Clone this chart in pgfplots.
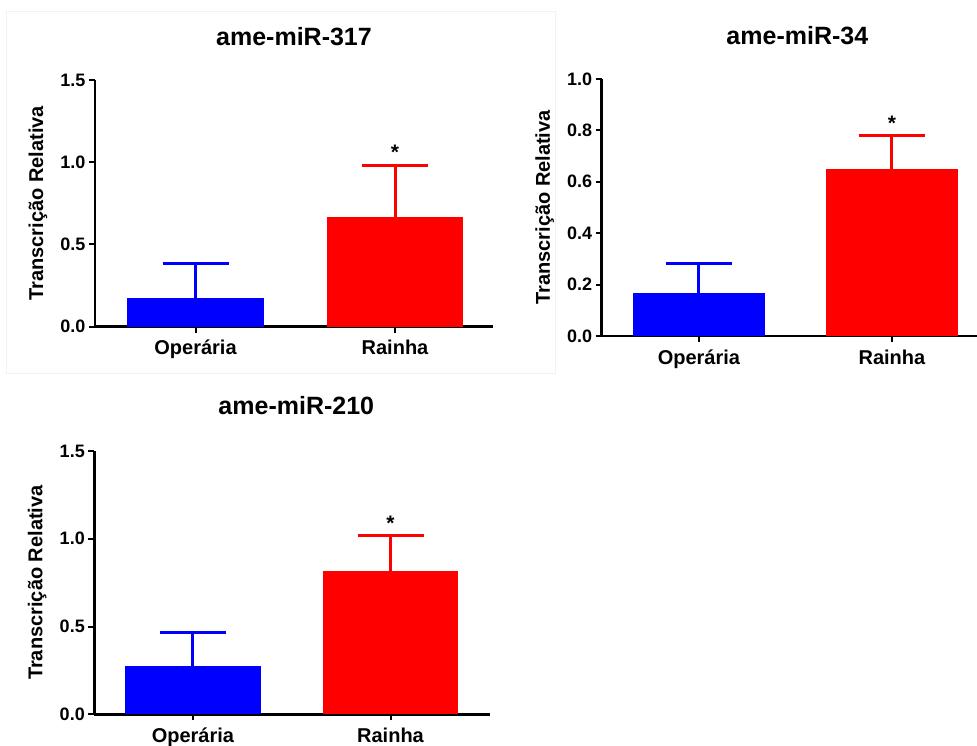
\documentclass[border=0pt]{standalone}
\usepackage{pgfplots}
\pgfplotsset{compat=1.18}
\usepackage{fontspec}
\setmainfont{Liberation Sans}
\definecolor{gpblue}{RGB}{0,0,255}
\definecolor{gpred}{RGB}{255,0,0}
\definecolor{framegray}{RGB}{242,242,242}
\newcommand{\fs}[1]{\fontsize{#1}{#1}\selectfont}
\tikzset{starlbl/.style={font=\bfseries\fs{21}, anchor=center}}
\pgfplotsset{
  panel/.style={
    scale only axis, clip=false,
    axis x line=bottom, axis y line=left,
    axis line style={-, line width=2.5pt, black},
    xmin=0, ymin=0,
    tick align=outside, major tick length=6pt,
    tick style={line width=2pt, black},
    minor tick num=0,
    xticklabels={Operária, Rainha},
    yticklabel style={font=\bfseries\fs{18}, /pgf/number format/fixed, /pgf/number format/fixed zerofill, /pgf/number format/precision=1, /pgf/number format/assume math mode=true},
    xticklabel style={font=\bfseries\fs{20}, yshift=-4pt},
    ylabel={Transcrição Relativa},
    ylabel style={font=\bfseries\fs{20}, at={([xshift=-57pt]axis description cs:0,0.5)}, anchor=center},
    title style={font=\bfseries\fs{25}, anchor=center},
  },
  bars/.style={ybar, bar shift=0pt, draw=none, fill=#1,
     error bars/y dir=plus, error bars/y explicit,
     error bars/error mark=|,
     error bars/error bar style={line width=3pt, #1},
     error bars/error mark options={line width=3pt, #1, mark size=33pt}},
}
\begin{document}
\begin{tikzpicture}[x=1pt,y=1pt]
\path[use as bounding box] (0,0) rectangle (977,746);
\draw[framegray, line width=1pt] (6,372) rectangle (555,734);
% Panel 1
\begin{axis}[panel, at={(95pt,419.3pt)}, anchor=south west,
  width=398pt, height=246.7pt, xmax=398, ymax=1.5,
  ytick={0,0.5,1,1.5}, xtick={100.5,300},
  title={ame-miR-317},
  title style={at={([yshift=37pt]axis description cs:0.5,1)}}]
\addplot[bars=gpblue, bar width=137] coordinates {(100.5,0.173) +- (0,0.213)};
\addplot[bars=gpred, bar width=136] coordinates {(300,0.665) +- (0,0.318)};
\node[starlbl] at (axis cs:300,1.058) {*};
\end{axis}
% Panel 2
\fill[white] (556,380) rectangle (977,740);
\begin{axis}[panel, at={(601.7pt,410pt)}, anchor=south west,
  width=375.3pt, height=257pt, xmax=375.3, ymax=1.0,
  ytick={0,0.2,0.4,0.6,0.8,1.0}, xtick={97.2,290.2},
  title={ame-miR-34},
  title style={at={([xshift=8pt,yshift=37pt]axis description cs:0.5,1)}}]
\addplot[bars=gpblue, bar width=132] coordinates {(97.2,0.168) +- (0,0.115)};
\addplot[bars=gpred, bar width=132] coordinates {(290.2,0.648) +- (0,0.134)};
\node[starlbl] at (axis cs:290.2,0.829) {*};
\end{axis}
% Panel 3
\begin{axis}[panel, at={(94.3pt,31.7pt)}, anchor=south west,
  width=396pt, height=263.3pt, xmax=396, ymax=1.5,
  ytick={0,0.5,1,1.5}, xtick={98.6,296.2},
  title={ame-miR-210},
  title style={at={([xshift=4pt,yshift=39pt]axis description cs:0.5,1)}}]
\addplot[bars=gpblue, bar width=136] coordinates {(98.6,0.275) +- (0,0.192)};
\addplot[bars=gpred, bar width=135] coordinates {(296.2,0.818) +- (0,0.200)};
\node[starlbl] at (axis cs:296.2,1.086) {*};
\end{axis}
\end{tikzpicture}
\end{document}
